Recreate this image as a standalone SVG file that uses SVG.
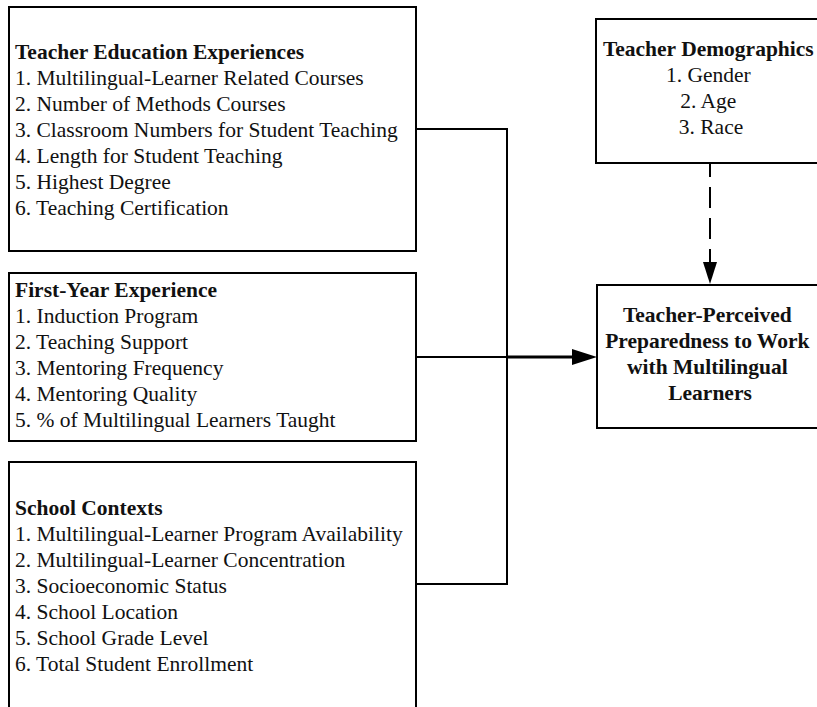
<svg xmlns="http://www.w3.org/2000/svg" width="817" height="707" viewBox="0 0 817 707">
  <style>
    .box { fill: #fff; stroke: #000; stroke-width: 2; }
    .t { font-family: "Liberation Serif", "Times New Roman", serif; font-size: 21.5px; fill: #111; }
    .b { font-weight: bold; }
    .c { text-anchor: middle; }
    .wire { fill: none; stroke: #000; stroke-width: 2; }
  </style>
  <rect width="817" height="707" fill="#fff"/>

  <g id="connectors">
    <path class="wire" d="M416,129 H507 V584 H416"/>
    <path class="wire" d="M416,357 H507"/>
    <path d="M507,357 H574" stroke="#000" stroke-width="3" fill="none"/>
    <path d="M572,349 L597,357 L572,365 Z" fill="#000"/>
    <path d="M710,164 V264" stroke="#000" stroke-width="2" stroke-dasharray="21,10" stroke-dashoffset="8" fill="none"/>
    <path d="M703,262 L710,284 L717,262 Z" fill="#000"/>
  </g>

  <g id="teacher-education">
    <rect class="box" x="9" y="7" width="407" height="244"/>
    <text class="t" x="15" y="59"><tspan class="b">Teacher Education Experiences</tspan>
      <tspan x="15" dy="26">1. Multilingual-Learner Related Courses</tspan>
      <tspan x="15" dy="26">2. Number of Methods Courses</tspan>
      <tspan x="15" dy="26">3. Classroom Numbers for Student Teaching</tspan>
      <tspan x="15" dy="26">4. Length for Student Teaching</tspan>
      <tspan x="15" dy="26">5. Highest Degree</tspan>
      <tspan x="15" dy="26">6. Teaching Certification</tspan></text>
  </g>

  <g id="first-year">
    <rect class="box" x="9" y="273" width="407" height="168"/>
    <text class="t" x="15" y="297"><tspan class="b">First-Year Experience</tspan>
      <tspan x="15" dy="26">1. Induction Program</tspan>
      <tspan x="15" dy="26">2. Teaching Support</tspan>
      <tspan x="15" dy="26">3. Mentoring Frequency</tspan>
      <tspan x="15" dy="26">4. Mentoring Quality</tspan>
      <tspan x="15" dy="26">5. % of Multilingual Learners Taught</tspan></text>
  </g>

  <g id="school-contexts">
    <rect class="box" x="9" y="462" width="407" height="260"/>
    <text class="t" x="15" y="515"><tspan class="b">School Contexts</tspan>
      <tspan x="15" dy="26">1. Multilingual-Learner Program Availability</tspan>
      <tspan x="15" dy="26">2. Multilingual-Learner Concentration</tspan>
      <tspan x="15" dy="26">3. Socioeconomic Status</tspan>
      <tspan x="15" dy="26">4. School Location</tspan>
      <tspan x="15" dy="26">5. School Grade Level</tspan>
      <tspan x="15" dy="26">6. Total Student Enrollment</tspan></text>
  </g>

  <g id="demographics">
    <rect class="box" x="596" y="19" width="232" height="144"/>
    <text class="t c" x="711" y="56"><tspan class="b">Teacher Demographics</tspan>
      <tspan x="711" dy="26">1. Gender</tspan>
      <tspan x="711" dy="26">2. Age</tspan>
      <tspan x="711" dy="26">3. Race</tspan></text>
  </g>

  <g id="preparedness">
    <rect class="box" x="597" y="285" width="232" height="143"/>
    <text class="t b c" x="710" y="322">Teacher-Perceived
      <tspan x="710" dy="26">Preparedness to Work</tspan>
      <tspan x="710" dy="26">with Multilingual</tspan>
      <tspan x="710" dy="26">Learners</tspan></text>
  </g>
</svg>
